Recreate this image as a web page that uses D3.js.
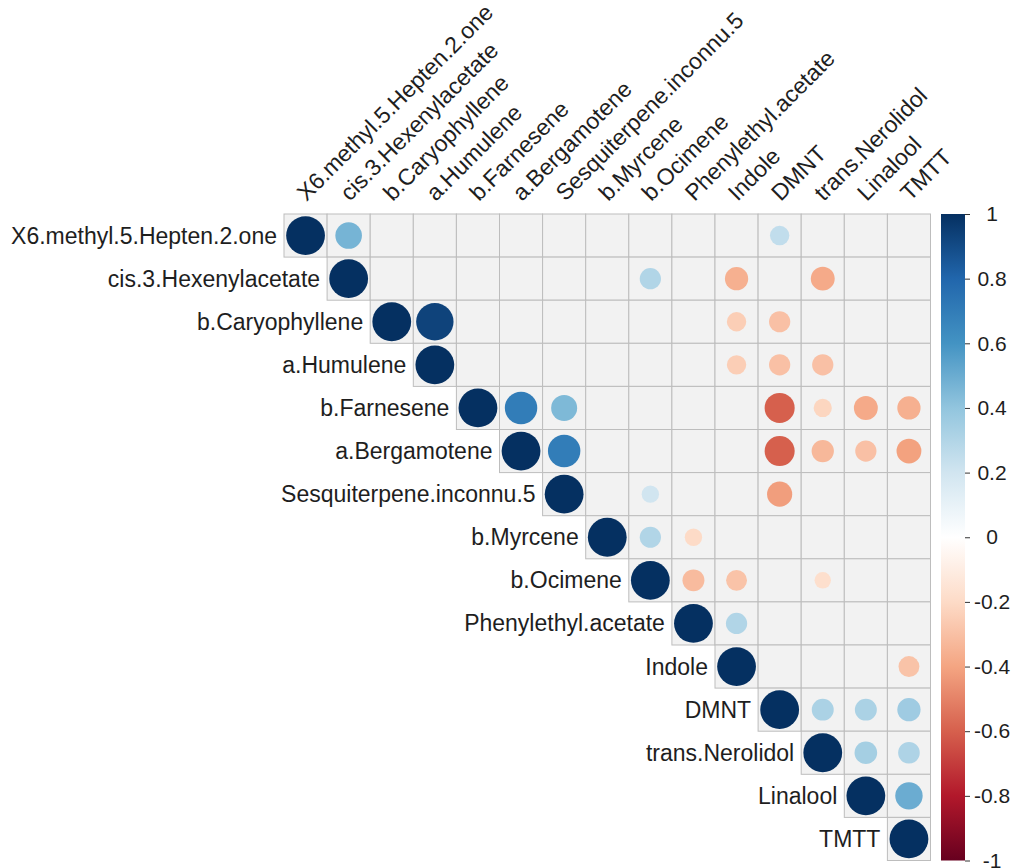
<!DOCTYPE html>
<html>
<head>
<meta charset="utf-8">
<script src="https://cdn.jsdelivr.net/npm/d3@7"></script>
<style>
  html, body { margin: 0; padding: 0; background: #fff; }
  svg text { font-family: "Liberation Sans", Arial, sans-serif; fill: #1e1e1e; }
</style>
</head>
<body>
<svg id="chart" width="1014" height="868"></svg>
<script>
// Volatile compounds, in plotting order
const variables = [
  "X6.methyl.5.Hepten.2.one", "cis.3.Hexenylacetate", "b.Caryophyllene",
  "a.Humulene", "b.Farnesene", "a.Bergamotene", "Sesquiterpene.inconnu.5",
  "b.Myrcene", "b.Ocimene", "Phenylethyl.acetate", "Indole", "DMNT",
  "trans.Nerolidol", "Linalool", "TMTT"
];

// Upper triangle of the correlation matrix, each row starting at its diagonal.
// null = not significant (left blank)
const corUpper = [
  [1, 0.47, null, null, null, null, null, null, null, null, null, 0.25, null, null, null],
  [1, null, null, null, null, null, null, 0.3, null, -0.36, null, -0.38, null, null],
  [1, 0.93, null, null, null, null, null, null, -0.25, -0.3, null, null, null],
  [1, null, null, null, null, null, null, -0.25, -0.3, -0.3, null, null],
  [1, 0.7, 0.45, null, null, null, null, -0.6, -0.22, -0.38, -0.36],
  [1, 0.7, null, null, null, null, -0.6, -0.33, -0.3, -0.41],
  [1, null, 0.2, null, null, -0.42, null, null, null],
  [1, 0.3, -0.2, null, null, null, null, null],
  [1, -0.32, -0.29, null, -0.18, null, null],
  [1, 0.3, null, null, null, null],
  [1, null, null, null, -0.29],
  [1, 0.32, 0.32, 0.36],
  [1, 0.34, 0.31],
  [1, 0.5],
  [1]
];

// Colour bar ticks
const legendTicks = [1, 0.8, 0.6, 0.4, 0.2, 0, -0.2, -0.4, -0.6, -0.8, -1];
const legendLabels = ["1", "0.8", "0.6", "0.4", "0.2", "0", "-0.2", "-0.4", "-0.6", "-0.8", "-1"];

// Diverging red-blue palette
const paletteColors = ["#67001F", "#B2182B", "#D6604D", "#F4A582", "#FDDBC7", "#FFFFFF",
                       "#D1E5F0", "#92C5DE", "#4393C3", "#2166AC", "#053061"];

const svg = d3.select("#chart");

const gridLeft = 284, gridTop = 214, cell = 43.1;
const n = variables.length;

const x = d3.scaleBand().domain(variables).range([gridLeft, gridLeft + n * cell]).padding(0);
const y = d3.scaleBand().domain(variables).range([gridTop, gridTop + n * cell]).padding(0);
const color = d3.scaleLinear()
  .domain(d3.range(paletteColors.length).map(i => -1 + 2 * i / (paletteColors.length - 1)))
  .range(paletteColors)
  .interpolate(d3.interpolateRgb);
const radius = d3.scaleSqrt().domain([0, 1]).range([0, 0.45 * x.bandwidth()]);

// Flatten into cells
const cells = [];
corUpper.forEach((row, i) => {
  row.forEach((v, k) => {
    const j = i + k;
    cells.push({ row: variables[i], col: variables[j], value: v });
  });
});

// Grid background
svg.append("g")
  .selectAll("rect")
  .data(cells)
  .join("rect")
  .attr("x", d => x(d.col))
  .attr("y", d => y(d.row))
  .attr("width", x.bandwidth())
  .attr("height", y.bandwidth())
  .attr("fill", "#F2F2F2")
  .attr("stroke", "#BDBDBD")
  .attr("stroke-width", 1);

// Circles
svg.append("g")
  .selectAll("circle")
  .data(cells.filter(d => d.value !== null))
  .join("circle")
  .attr("cx", d => x(d.col) + x.bandwidth() / 2)
  .attr("cy", d => y(d.row) + y.bandwidth() / 2)
  .attr("r", d => radius(Math.abs(d.value)))
  .attr("fill", d => color(d.value));

// Row labels
svg.append("g")
  .selectAll("text")
  .data(variables)
  .join("text")
  .attr("x", d => x(d) - 7)
  .attr("y", d => y(d) + y.bandwidth() / 2)
  .attr("text-anchor", "end")
  .attr("dominant-baseline", "central")
  .attr("font-size", 23)
  .text(d => d);

// Column labels, rotated
svg.append("g")
  .selectAll("text")
  .data(variables)
  .join("text")
  .attr("transform", d => `translate(${x(d) + x.bandwidth() / 2 + 1},${gridTop - 12}) rotate(-45)`)
  .attr("text-anchor", "start")
  .attr("font-size", 23)
  .text(d => d);

// Colour bar
const barX = 941, barW = 24;
const legendY = d3.scaleLinear().domain([-1, 1]).range([gridTop + n * cell, gridTop]);
const defs = svg.append("defs");
const grad = defs.append("linearGradient")
  .attr("id", "corGrad")
  .attr("x1", 0).attr("y1", 1).attr("x2", 0).attr("y2", 0);
grad.selectAll("stop")
  .data(paletteColors)
  .join("stop")
  .attr("offset", (d, i) => i / (paletteColors.length - 1))
  .attr("stop-color", d => d);

svg.append("rect")
  .attr("x", barX)
  .attr("y", legendY(1))
  .attr("width", barW)
  .attr("height", legendY(-1) - legendY(1))
  .attr("fill", "url(#corGrad)");

const legendAxis = svg.append("g")
  .attr("transform", `translate(${barX + barW},0)`)
  .call(d3.axisRight(legendY)
    .tickValues(legendTicks)
    .tickSize(5)
    .tickFormat((d, i) => legendLabels[i]));
legendAxis.select(".domain").remove();
legendAxis.selectAll(".tick line").attr("stroke", "#333");
legendAxis.selectAll(".tick text")
  .attr("x", 27)
  .attr("text-anchor", "middle")
  .attr("font-size", 21)
  .attr("font-family", "Liberation Sans, Arial, sans-serif")
  .attr("fill", "#1e1e1e");
</script>
</body>
</html>
